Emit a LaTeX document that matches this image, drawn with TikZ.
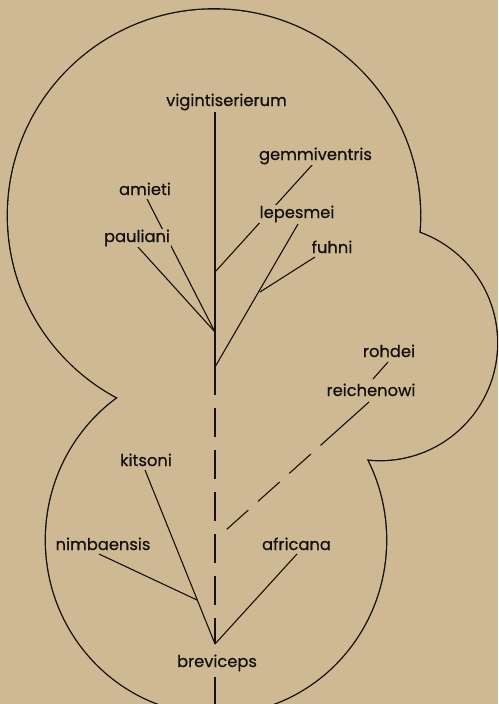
\documentclass[tikz,border=0pt]{standalone}
\usepackage{fontspec}
\setmainfont{Poppins}
\newfontfamily\lblfont{Poppins}[FakeBold=0.6]
\definecolor{paper}{RGB}{206,185,148}
\definecolor{ink}{RGB}{20,16,12}
\tikzset{
  lbl/.style={anchor=base, fill=paper, inner sep=1pt, text=ink,
    font=\lblfont\fontsize{16.3}{18}\selectfont},
  branch/.style={draw=ink, line width=1.1pt},
  lobe/.style={draw=ink, line width=2.7pt},
}
\begin{document}
\begin{tikzpicture}[x=1pt,y=-1pt]
\useasboundingbox (0,0) rectangle (498,704);
\fill[paper] (0,0) rectangle (498,704);
\clip (0,0) rectangle (498,704);
% outline of the three lobes (outer half of strokes remains)
\path[lobe] (214,215.5) circle [radius=206pt];
\path[lobe] (380,343) circle [radius=117pt];
\path[lobe] (216,540) ellipse [x radius=170pt, y radius=174pt];
\fill[paper] (214,215.5) circle [radius=206pt];
\fill[paper] (380,343) circle [radius=117pt];
\fill[paper] (216,540) ellipse [x radius=170pt, y radius=174pt];
% junctions and line ends
\coordinate (vtop) at (215,112);
\coordinate (J2) at (215,272);
\coordinate (J1) at (215,332);
\coordinate (J3) at (215,367);
\coordinate (S1) at (215,395);
\coordinate (J4) at (215,644);
\coordinate (btop) at (215,677);
\coordinate (bbot) at (215,704);
\coordinate (F) at (260,292);
\coordinate (K) at (197,600);
\coordinate (D) at (226,530);
\coordinate (am) at (147,199);
\coordinate (pa) at (138,247);
\coordinate (ge) at (313,164);
\coordinate (le) at (298,224);
\coordinate (fu) at (315,257);
\coordinate (ro) at (388,362);
\coordinate (roe) at (373,379);
\coordinate (re) at (369,402);
\coordinate (ki) at (145,470);
\coordinate (ni) at (99,554);
\coordinate (af) at (297,554);
% branches
\draw[branch] (vtop) -- (S1);
\draw[branch, dash pattern=on 29pt off 13pt, dash phase=29pt] (S1) -- (J4);
\draw[branch] (btop) -- (bbot);
\draw[branch] (am) -- (J1);
\draw[branch] (pa) -- (J1);
\draw[branch] (ge) -- (J2);
\draw[branch] (le) -- (J3);
\draw[branch] (fu) -- (F);
\draw[branch] (ro) -- (roe);
\draw[branch, dash pattern=on 65pt off 13pt on 29pt off 13pt on 29pt off 13pt on 29pt off 13pt] (re) -- (D);
\draw[branch] (ki) -- (J4);
\draw[branch] (ni) -- (K);
\draw[branch] (af) -- (J4);
% labels
\node[lbl] (vig) at (226.5,106) {vigintiserierum};
\node[lbl] (gem) at (315.5,160) {gemmiventris};
\node[lbl] (ami) at (145,195) {amieti};
\node[lbl] (lep) at (297,218) {lepesmei};
\node[lbl] (pau) at (137,242) {pauliani};
\node[lbl] (fuh) at (332,253) {fuhni};
\node[lbl] (roh) at (389,357) {rohdei};
\node[lbl] (rei) at (371,396) {reichenowi};
\node[lbl] (kit) at (146,466) {kitsoni};
\node[lbl] (nim) at (103,550) {nimbaensis};
\node[lbl] (afr) at (296.5,550) {africana};
\node[lbl] (bre) at (217,667) {breviceps};
\end{tikzpicture}
\end{document}
